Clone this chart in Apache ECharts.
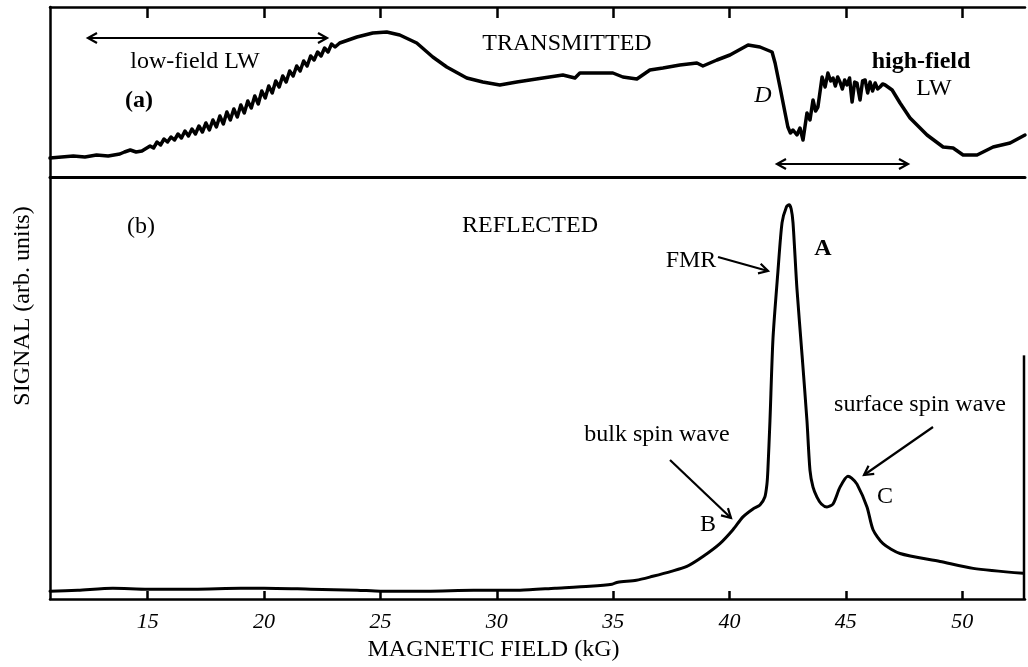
<!DOCTYPE html>
<html><head><meta charset="utf-8">
<script src="https://cdn.jsdelivr.net/npm/echarts@6/dist/echarts.min.js"></script>
<style>html,body{margin:0;padding:0;background:#fff}#c{width:1028px;height:667px}</style>
</head><body><div id="c"></div>
<script>
// ---------- data ----------
const xMin = 10.8, xMax = 52.7;
const tickValues = [15, 20, 25, 30, 35, 40, 45, 50];
const tickLabels = ['15', '20', '25', '30', '35', '40', '45', '50'];

// (a) transmitted signal
const transField = [10.8, 11.3, 11.8, 12.3, 12.8, 13.3, 13.8, 14.0, 14.25, 14.5, 14.75,
  15.10,15.25,15.40,15.55,15.70,15.85,16.00,16.15,16.30,16.45,16.60,16.75,16.90,17.05,17.20,17.35,17.50,17.65,17.80,17.95,
  18.10,18.25,18.40,18.55,18.70,18.85,19.00,19.15,19.30,19.45,19.60,19.75,19.90,20.05,20.20,20.35,20.50,20.65,20.80,20.95,
  21.10,21.25,21.40,21.55,21.70,21.85,22.00,22.15,22.30,22.45,22.60,22.75,22.90,23.05,
  23.25, 23.99, 24.67, 25.27, 25.83, 26.56, 27.25, 27.85, 28.71, 29.40, 30.13, 30.86, 31.98, 32.84, 33.36, 33.57,
  34.30, 34.99, 35.42, 36.02, 36.58, 37.14, 37.87, 38.60, 38.86, 39.46, 40.02, 40.80, 41.31, 41.83, 41.96, 42.17,
  42.39, 42.51, 42.62, 42.73, 42.90, 43.03, 43.16, 43.33, 43.46, 43.59, 43.70, 43.80, 43.98, 44.11, 44.23, 44.35,
  44.45, 44.55, 44.65, 44.75, 44.85, 44.95, 45.05, 45.16, 45.27, 45.38, 45.48, 45.61, 45.72, 45.83, 45.94, 46.04,
  46.15, 46.26, 46.37, 46.47, 46.58, 46.69, 46.99, 47.33, 47.76, 48.49, 49.18, 49.61, 50.04, 50.64,
  51.33, 52.06, 52.7];
const transSignal = [19, 20, 21, 20, 22, 21, 23, 25, 27, 25, 26,
  31,29,35,32,38,35,40,37,43,39,46,41,48,43,51,45,54,47,57,50,
  61,53,65,57,68,60,72,64,76,69,81,73,86,79,91,84,96,90,101,95,
  106,101,111,106,116,111,121,117,125,121,129,125,133,130,
  134, 140, 144, 145, 142, 134, 120, 110, 99, 95, 92, 95, 99, 102, 99, 104,
  104, 104, 100, 98, 107, 109, 112, 114, 111, 117, 122, 132, 130, 125, 114, 90,
  64, 50, 44, 47, 42, 49, 37, 64, 57, 77, 66, 70, 100, 90, 104, 96,
  99, 91, 100, 95, 88, 97, 92, 99, 75, 95, 94, 77, 96, 97, 84, 95,
  86, 94, 88, 90, 93, 92, 87, 74, 59, 42, 30, 29, 22, 22,
  30, 34, 42];

// (b) reflected signal
const reflField = [10.8, 12, 13.5, 15, 17, 19, 20, 22, 24, 25, 27, 29, 31, 32.5, 34, 34.95, 35.2, 36, 36.7, 37.5,
  38.17, 38.86, 39.59, 40.15, 40.58, 41.01, 41.31, 41.52, 41.61, 41.65, 41.74, 41.87, 42.08, 42.26, 42.45, 42.56,
  42.65, 42.73, 42.9, 43.12, 43.33, 43.46, 43.59, 43.76, 43.95, 44.19, 44.45, 44.75, 45.09, 45.25, 45.48, 45.91,
  46.17, 46.6, 47.33, 49.05, 50.47, 52.62];
const reflSignal = [8, 9, 11, 10, 10, 11, 11, 10, 9, 8, 8, 9, 9, 11, 13, 15, 17, 19, 23, 28,
  33, 43, 56, 70, 83, 91, 95, 103, 116, 130, 180, 263, 330, 380, 396, 398,
  394, 380, 313, 246, 180, 130, 113, 103, 96, 93, 96, 113, 124, 122, 116, 93,
  70, 56, 46, 38, 31, 26];

// ---------- chart ----------
const FONT = '"Liberation Serif", "DejaVu Serif", serif';
const zip = (a, b) => a.map((v, i) => [v, b[i]]);
const chart = echarts.init(document.getElementById('c'), null, {renderer: 'canvas'});

const lineAxis = (w) => ({show: true, onZero: false, lineStyle: {color: '#000', width: w}});

chart.setOption({
  animation: false,
  backgroundColor: '#fff',
  grid: [
    {left: 50, right: 3, top: 7, height: 170},
    {left: 50, right: 3, top: 177, height: 426}
  ],
  xAxis: [
    {gridIndex: 0, type: 'value', min: xMin, max: xMax, position: 'top',
     axisLine: lineAxis(2.5),
     axisTick: {show: true, inside: true, length: 11, customValues: tickValues, lineStyle: {color: '#000', width: 2.5}},
     axisLabel: {show: false}, splitLine: {show: false}},
    {gridIndex: 0, type: 'value', min: xMin, max: xMax, position: 'bottom',
     axisLine: lineAxis(3), axisTick: {show: false}, axisLabel: {show: false}, splitLine: {show: false}},
    {gridIndex: 1, type: 'value', min: xMin, max: xMax, position: 'bottom',
     axisLine: lineAxis(2.5),
     axisTick: {show: true, inside: true, length: 8, customValues: tickValues, lineStyle: {color: '#000', width: 2.5}},
     axisLabel: {show: true, customValues: tickValues, margin: 12,
       formatter: v => tickLabels[tickValues.indexOf(v)] ?? '',
       color: '#000', fontFamily: FONT, fontStyle: 'italic', fontSize: 22},
     splitLine: {show: false},
     name: 'MAGNETIC FIELD (kG)', nameLocation: 'middle', nameGap: 37,
     nameTextStyle: {color: '#000', fontFamily: FONT, fontSize: 24, padding: [0, 88, 0, 0]}}
  ],
  yAxis: [
    {gridIndex: 0, type: 'value', min: 0, max: 170, axisLine: lineAxis(2.5),
     axisTick: {show: false}, axisLabel: {show: false}, splitLine: {show: false}},
    {gridIndex: 1, type: 'value', min: 0, max: 426, axisLine: lineAxis(2.5),
     axisTick: {show: false}, axisLabel: {show: false}, splitLine: {show: false}}
  ],
  series: [
    {name: 'TRANSMITTED', type: 'line', xAxisIndex: 0, yAxisIndex: 0, data: zip(transField, transSignal),
     showSymbol: false, smooth: false, lineStyle: {color: '#000', width: 3.5, join: 'round', cap: 'round'}},
    {name: 'REFLECTED', type: 'line', xAxisIndex: 2, yAxisIndex: 1, data: zip(reflField, reflSignal),
     showSymbol: false, smooth: 0.25, lineStyle: {color: '#000', width: 3, join: 'round', cap: 'round'}}
  ]
});

// ---------- annotations ----------
const texts = [
  {t: 'low-field LW', x: 195, y: 62},
  {t: '(a)', x: 139, y: 101, w: 'bold'},
  {t: 'TRANSMITTED', x: 567, y: 44},
  {t: 'D', x: 763, y: 96, s: 'italic'},
  {t: 'high-field', x: 921, y: 62, w: 'bold'},
  {t: 'LW', x: 934, y: 89},
  {t: '(b)', x: 141, y: 227},
  {t: 'REFLECTED', x: 530, y: 226},
  {t: 'FMR', x: 691, y: 261},
  {t: 'A', x: 823, y: 249, w: 'bold'},
  {t: 'surface spin wave', x: 920, y: 405},
  {t: 'bulk spin wave', x: 657, y: 435},
  {t: 'B', x: 708, y: 525},
  {t: 'C', x: 885, y: 497}
];
const arrows = [
  {a: [88, 38], b: [327, 38], both: true},
  {a: [777, 164], b: [908, 164], both: true},
  {a: [718, 257], b: [768, 271]},
  {a: [670, 460], b: [731, 518]},
  {a: [933, 427], b: [864, 475]}
];
function head(tip, from) {
  const dx = tip[0] - from[0], dy = tip[1] - from[1];
  const L = Math.hypot(dx, dy), ux = dx / L, uy = dy / L;
  const len = 9, hw = 5;
  const bx = tip[0] - ux * len, by = tip[1] - uy * len;
  return {type: 'polyline', shape: {points: [[bx - uy * hw, by + ux * hw], tip, [bx + uy * hw, by - ux * hw]]},
    style: {stroke: '#000', lineWidth: 2.2, fill: null, lineJoin: 'miter'}, silent: true};
}
const g = [];
texts.forEach(o => g.push({type: 'text', x: o.x, y: o.y, silent: true,
  style: {text: o.t, fill: '#000', font: `${o.s || 'normal'} ${o.w || 'normal'} 24px ${FONT}`, align: 'center', verticalAlign: 'middle'}}));
g.push({type: 'text', x: 23, y: 306, rotation: Math.PI / 2, silent: true,
  style: {text: 'SIGNAL (arb. units)', fill: '#000', font: `24px ${FONT}`, align: 'center', verticalAlign: 'middle'}});
arrows.forEach(o => {
  g.push({type: 'line', shape: {x1: o.a[0], y1: o.a[1], x2: o.b[0], y2: o.b[1]}, style: {stroke: '#000', lineWidth: 2.2}, silent: true});
  g.push(head(o.b, o.a));
  if (o.both) g.push(head(o.a, o.b));
});
// partial right border of panel (b)
const pTop = chart.convertToPixel({gridIndex: 1}, [xMax, 246]);
const pBot = chart.convertToPixel({gridIndex: 1}, [xMax, 0]);
g.push({type: 'line', shape: {x1: pTop[0] - 1, y1: pTop[1], x2: pBot[0] - 1, y2: pBot[1]}, style: {stroke: '#000', lineWidth: 2.5}, silent: true});
chart.setOption({graphic: g});
</script>
</body></html>
